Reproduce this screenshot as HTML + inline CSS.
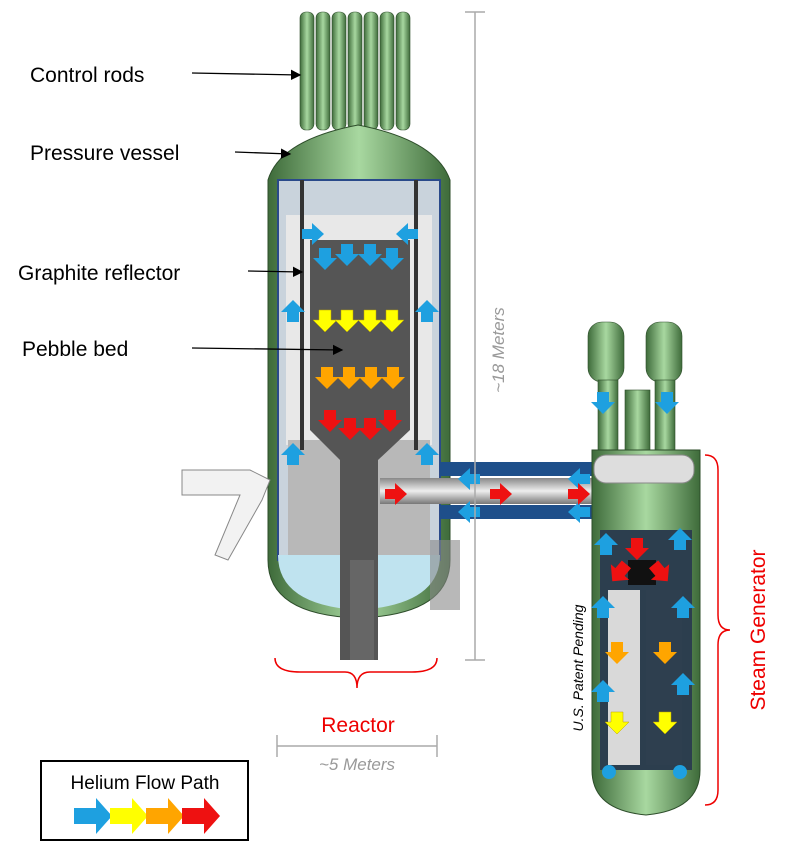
<!DOCTYPE html>
<html><head><meta charset="utf-8"><style>
html,body{margin:0;padding:0;background:#fff;}
svg{display:block;}
text{font-family:"Liberation Sans",sans-serif;}
</style></head><body>
<svg width="792" height="843" viewBox="0 0 792 843" xmlns="http://www.w3.org/2000/svg">
<defs>
<marker id="ah" markerWidth="8" markerHeight="8" refX="7" refY="4" orient="auto"><path d="M0,0 L8,4 L0,8 z" fill="#000"/></marker>
<linearGradient id="g" x1="0" x2="1"><stop offset="0" stop-color="#3e6b3a"/><stop offset="0.5" stop-color="#a8d8a0"/><stop offset="1" stop-color="#3e6b3a"/></linearGradient>
<linearGradient id="pipe" x1="0" y1="0" x2="0" y2="1"><stop offset="0" stop-color="#888"/><stop offset="0.5" stop-color="#eee"/><stop offset="1" stop-color="#777"/></linearGradient>
<linearGradient id="pipev" x1="0" x2="1"><stop offset="0" stop-color="#888"/><stop offset="0.5" stop-color="#eee"/><stop offset="1" stop-color="#777"/></linearGradient>
<g id="fa"><path d="M-6,-10 h12 v10 h6 l-12,12 l-12,-12 h6z"/></g>
<g id="ra"><path d="M-10,-5 v10 h10 v6 l12,-11 l-12,-11 v6z"/></g>
</defs>

<!-- control rods -->
<g fill="url(#g)" stroke="#2d4d2a" stroke-width="0.6">
<rect x="300" y="12" width="14" height="118" rx="6"/><rect x="316" y="12" width="14" height="118" rx="6"/>
<rect x="332" y="12" width="14" height="118" rx="6"/><rect x="348" y="12" width="14" height="118" rx="6"/>
<rect x="364" y="12" width="14" height="118" rx="6"/><rect x="380" y="12" width="14" height="118" rx="6"/>
<rect x="396" y="12" width="14" height="118" rx="6"/>
</g>
<!-- vessel -->
<path d="M268,180 Q280,140 358,125 Q436,140 450,180 L450,560 Q450,615 358,618 Q268,615 268,560 Z" fill="url(#g)" stroke="#2d4d2a"/>
<rect x="278" y="180" width="162" height="380" fill="#c9d3dc" stroke="#2a4a8a" stroke-width="2"/>
<rect x="286" y="215" width="146" height="230" fill="#e8e8e8"/>
<rect x="288" y="440" width="142" height="115" fill="#b8b8b8"/>
<path d="M278,555 L440,555 Q440,605 358,610 Q278,605 278,555Z" fill="#bfe3ef"/>
<path d="M310,240 L410,240 L410,430 L378,460 L378,660 L340,660 L340,460 L310,430Z" fill="#555"/>
<rect x="350" y="560" width="24" height="100" fill="#666"/>
<rect x="300" y="180" width="4" height="270" fill="#333"/><rect x="414" y="180" width="4" height="270" fill="#333"/>
<!-- left nozzle -->
<path d="M182,470 L250,470 L270,480 L262,500 L228,560 L215,555 L240,495 L182,495Z" fill="#f2f2f2" stroke="#888"/>
<rect x="430" y="540" width="30" height="70" fill="#888" opacity="0.6"/>
<!-- pipe -->
<rect x="440" y="462" width="160" height="14" fill="#1e4f8a"/>
<rect x="440" y="505" width="160" height="14" fill="#1e4f8a"/>
<rect x="380" y="478" width="220" height="26" fill="url(#pipe)"/>
<path d="M600,478 Q648,478 648,520 L648,630 L622,630 L622,520 Q622,504 600,504Z" fill="#ccc" stroke="#777"/>
<!-- steam generator towers -->
<g fill="url(#g)" stroke="#2d4d2a" stroke-width="0.6">
<rect x="588" y="322" width="36" height="60" rx="14"/><rect x="646" y="322" width="36" height="60" rx="14"/>
<rect x="598" y="380" width="20" height="70"/><rect x="655" y="380" width="20" height="70"/>
<rect x="625" y="390" width="25" height="60"/>
</g>
<path d="M592,450 L700,450 L700,770 Q700,810 646,815 Q592,810 592,770Z" fill="url(#g)" stroke="#2d4d2a"/>
<rect x="600" y="530" width="92" height="240" fill="#2c3e4e"/>
<rect x="608" y="590" width="32" height="175" fill="#d9d9d9"/>
<rect x="646" y="590" width="36" height="175" fill="#2e3f4f"/>
<rect x="628" y="560" width="28" height="25" fill="#111"/>
<rect x="594" y="455" width="100" height="28" rx="12" fill="#ddd" stroke="#888"/>

<!-- helium arrows -->
<g fill="#1ea0e0">
<use href="#ra" x="312" y="234"/><use href="#ra" x="408" y="234" transform="rotate(180 408 234)"/>
<use href="#fa" x="325" y="258"/><use href="#fa" x="347" y="254"/><use href="#fa" x="370" y="254"/><use href="#fa" x="392" y="258"/>
<use href="#fa" x="293" y="312" transform="rotate(180 293 312)"/><use href="#fa" x="427" y="312" transform="rotate(180 427 312)"/>
<use href="#fa" x="293" y="455" transform="rotate(180 293 455)"/><use href="#fa" x="427" y="455" transform="rotate(180 427 455)"/>
<use href="#ra" x="470" y="479" transform="rotate(180 470 479)"/><use href="#ra" x="580" y="479" transform="rotate(180 580 479)"/>
<use href="#ra" x="470" y="512" transform="rotate(180 470 512)"/><use href="#ra" x="580" y="512" transform="rotate(180 580 512)"/>
<use href="#fa" x="603" y="402"/><use href="#fa" x="667" y="402"/>
<use href="#fa" x="606" y="545" transform="rotate(180 606 545)"/><use href="#fa" x="680" y="540" transform="rotate(180 680 540)"/>
<use href="#fa" x="603" y="608" transform="rotate(180 603 608)"/><use href="#fa" x="683" y="608" transform="rotate(180 683 608)"/>
<use href="#fa" x="603" y="692" transform="rotate(180 603 692)"/><use href="#fa" x="683" y="685" transform="rotate(180 683 685)"/>
<circle cx="609" cy="772" r="7"/><circle cx="680" cy="772" r="7"/>
</g>
<g fill="#ffff00" stroke="#bba000" stroke-width="0.5">
<use href="#fa" x="325" y="320"/><use href="#fa" x="347" y="320"/><use href="#fa" x="370" y="320"/><use href="#fa" x="392" y="320"/>
<use href="#fa" x="617" y="722"/><use href="#fa" x="665" y="722"/>
</g>
<g fill="#ffa500">
<use href="#fa" x="327" y="377"/><use href="#fa" x="349" y="377"/><use href="#fa" x="371" y="377"/><use href="#fa" x="393" y="377"/>
<use href="#fa" x="617" y="652"/><use href="#fa" x="665" y="652"/>
</g>
<g fill="#ee1111">
<use href="#fa" x="330" y="420"/><use href="#fa" x="350" y="428"/><use href="#fa" x="370" y="428"/><use href="#fa" x="390" y="420"/>
<use href="#ra" x="395" y="494"/><use href="#ra" x="500" y="494"/><use href="#ra" x="578" y="494"/>
<use href="#fa" x="637" y="548"/><use href="#fa" x="620" y="572" transform="rotate(40 620 572)"/><use href="#fa" x="660" y="572" transform="rotate(-40 660 572)"/>
</g>

<!-- dimension lines -->
<g stroke="#aaa" stroke-width="1.5" fill="none">
<line x1="475" y1="12" x2="475" y2="660"/><line x1="465" y1="12" x2="485" y2="12"/><line x1="465" y1="660" x2="485" y2="660"/>
<line x1="277" y1="746" x2="437" y2="746"/><line x1="277" y1="735" x2="277" y2="757"/><line x1="437" y1="735" x2="437" y2="757"/>
</g>
<text x="0" y="0" transform="translate(504,350) rotate(-90)" text-anchor="middle" font-size="17" font-style="italic" fill="#999">~18 Meters</text>
<text x="357" y="770" text-anchor="middle" font-size="17" font-style="italic" fill="#999">~5 Meters</text>

<!-- red brackets -->
<path d="M275,658 Q275,672 300,672 L345,672 Q357,672 357,688 Q357,672 370,672 L412,672 Q437,672 437,658" fill="none" stroke="#e00" stroke-width="1.5"/>
<text x="358" y="732" text-anchor="middle" font-size="21" fill="#e00">Reactor</text>
<path d="M705,455 Q718,455 718,470 L718,615 Q718,630 730,630 Q718,630 718,645 L718,790 Q718,805 705,805" fill="none" stroke="#e00" stroke-width="1.5"/>
<text transform="translate(765,630) rotate(-90)" text-anchor="middle" font-size="21" fill="#e00">Steam Generator</text>
<text transform="translate(583,668) rotate(-90)" text-anchor="middle" font-size="14" font-style="italic" fill="#000">U.S. Patent Pending</text>

<!-- left labels -->
<g font-size="21" fill="#000">
<text x="30" y="82">Control rods</text>
<text x="30" y="160">Pressure vessel</text>
<text x="18" y="280">Graphite reflector</text>
<text x="22" y="356">Pebble bed</text>
</g>
<g stroke="#000" stroke-width="1.3" marker-end="url(#ah)">
<line x1="192" y1="73" x2="300" y2="75"/>
<line x1="235" y1="152" x2="290" y2="154"/>
<line x1="248" y1="271" x2="302" y2="272"/>
<line x1="192" y1="348" x2="342" y2="350"/>
</g>

<!-- legend -->
<rect x="41" y="761" width="207" height="79" fill="#fff" stroke="#000" stroke-width="2"/>
<text x="145" y="789" text-anchor="middle" font-size="19" fill="#000">Helium Flow Path</text>
<g>
<path d="M74,808 h22 v-10 l16,18 l-16,18 v-10 h-22z" fill="#1ea0e0"/>
<path d="M110,808 h22 v-10 l16,18 l-16,18 v-10 h-22z" fill="#ffff00"/>
<path d="M146,808 h22 v-10 l16,18 l-16,18 v-10 h-22z" fill="#ffa500"/>
<path d="M182,808 h22 v-10 l16,18 l-16,18 v-10 h-22z" fill="#ee1111"/>
</g>
</svg>
</body></html>
